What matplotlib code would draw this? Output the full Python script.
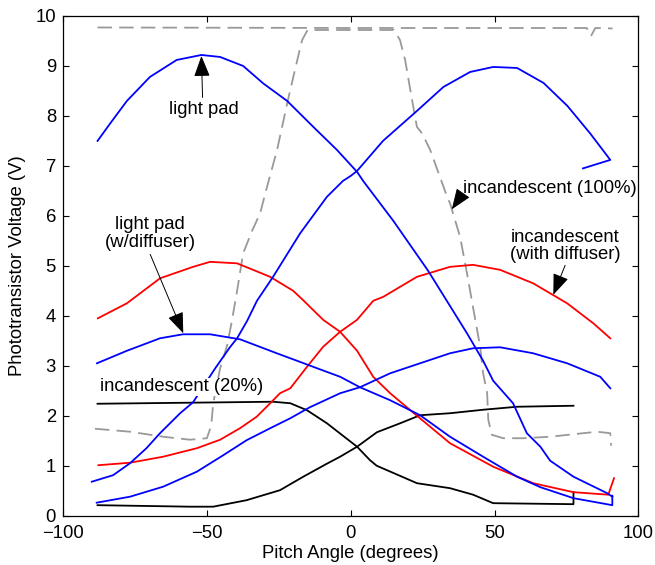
import numpy as np
import matplotlib.pyplot as plt

plt.rcParams['font.family'] = ['Liberation Sans', 'DejaVu Sans']
plt.rcParams['font.size'] = 13.3

# light pad (no diffuser), two mounting orientations
pad_a_x = [-88, -83.6, -77.8, -69.8, -60.5, -51.9, -45.4, -37.4, -30.4, -22.1, -13, -4.8, 2.2, 4.3,
           14.8, 26.9, 40.4, 46, 49.5, 56.4, 61.2, 65.9, 69.3, 77.4, 89.1, 90.9]
pad_a_y = [7.5, 7.85, 8.3, 8.78, 9.12, 9.22, 9.18, 9.0, 8.65, 8.3, 7.78, 7.32, 6.88, 6.7,
           5.9, 4.9, 3.65, 3.1, 2.7, 2.25, 1.65, 1.38, 1.1, 0.78, 0.45, 0.38]
pad_b_x = [-90, -82.6, -76.7, -71, -66.3, -62.8, -59.3, -54.8, -47.1, -42, -39.5, -36, -32.6, -27,
           -17.6, -8.3, -2.7, 0, 2.2, 11.2, 23, 32.2, 41.5, 49.5, 57.8, 67, 75.3, 83.2, 90.2, 80.7]
pad_b_y = [0.68, 0.81, 1.05, 1.35, 1.65, 1.85, 2.05, 2.27, 2.95, 3.37, 3.55, 3.9, 4.3, 4.78,
           5.65, 6.38, 6.7, 6.8, 6.9, 7.5, 8.1, 8.58, 8.88, 8.98, 8.96, 8.66, 8.2, 7.65, 7.12, 6.95]

# light pad with diffuser
padd_a_x = [-88.2, -77.8, -66.3, -58.3, -48.9, -38.5, -25.7, -21, -11.7, -3.7, 3.2, 13.7, 24.1,
            34.5, 46, 57.8, 65.9, 77.4, 90.9, 90.9]
padd_a_y = [3.05, 3.3, 3.55, 3.63, 3.63, 3.53, 3.25, 3.15, 2.95, 2.78, 2.57, 2.31, 2.01,
            1.58, 1.18, 0.78, 0.57, 0.35, 0.21, 0.4]
padd_b_x = [-88.3, -76.7, -65.2, -53.5, -44.3, -36.2, -28, -21, -14.2, -3.7, 3.2, 13.7, 24.1,
            34.5, 42.5, 51.9, 63.4, 75.2, 86.7, 90.2]
padd_b_y = [0.26, 0.38, 0.58, 0.88, 1.21, 1.51, 1.75, 1.95, 2.17, 2.45, 2.57, 2.85, 3.05,
            3.25, 3.35, 3.37, 3.25, 3.05, 2.78, 2.55]

# incandescent with diffuser
incd_a_x = [-87.9, -77.8, -66.3, -54.8, -48.9, -39.5, -28, -20, -16.5, -9.6, -3.7, 2.2, 7.8,
            13.7, 23, 34.5, 49.5, 63.4, 77.4, 89.5, 91.5]
incd_a_y = [3.95, 4.25, 4.75, 4.98, 5.08, 5.05, 4.78, 4.5, 4.31, 3.92, 3.68, 3.3, 2.78,
            2.45, 2.0, 1.45, 0.98, 0.65, 0.47, 0.42, 0.75]
incd_b_x = [-87.7, -76.7, -65.2, -53.5, -45.4, -38.5, -32.7, -28, -24.6, -21, -15.2, -9.6, -3.7,
            2.2, 7.8, 11.3, 23, 34.5, 42.5, 51.9, 63.4, 75.2, 84.3, 90.2]
incd_b_y = [1.01, 1.06, 1.18, 1.35, 1.52, 1.75, 1.98, 2.25, 2.45, 2.55, 2.98, 3.38, 3.68,
            3.92, 4.3, 4.38, 4.78, 4.98, 5.02, 4.92, 4.65, 4.25, 3.85, 3.55]

# incandescent 20%
inc20_a_x = [-88, -27, -21, -15.2, -8.3, 2.2, 6.7, 9, 23, 34.5, 42.5, 49.5, 77.4, 77.4]
inc20_a_y = [2.24, 2.28, 2.25, 2.11, 1.85, 1.38, 1.11, 1.0, 0.65, 0.55, 0.42, 0.25, 0.23, 0.47]
inc20_b_x = [-88, -55.9, -47.8, -36.2, -24.6, -16.5, -8.3, -3.7, 2.2, 9.1, 17.2, 24.1, 34.5,
             46, 57.8, 77.4]
inc20_b_y = [0.21, 0.18, 0.18, 0.31, 0.51, 0.78, 1.04, 1.18, 1.38, 1.67, 1.85, 2.01, 2.05,
             2.12, 2.18, 2.2]

# incandescent 100%
inc100_a_x = [-88, 0, 82, 83.5, 85, 91]
inc100_a_y = [9.77, 9.76, 9.76, 9.6, 9.76, 9.75]
inc100_b_x = [-88.9, -76.7, -65.2, -55.9, -50, -48.5, -47.8, -45.4, -43, -41.3, -39.5, -37.4,
              -34.3, -31.5, -29.1, -25.6, -22.1, -19.4, -16.9, -15, 0, 15, 17.1, 18.9, 21.3, 23,
              24.8, 27.6, 31, 33.5, 34.5, 38, 40.4, 42.5, 45, 46, 47.4, 47.8, 49, 53, 60, 69.3,
              80.7, 85.6, 90.2, 90.5]
inc100_b_y = [1.74, 1.68, 1.58, 1.52, 1.55, 1.8, 2.25, 2.95, 3.4, 3.9, 4.5, 5.25,
              5.7, 6.05, 6.58, 7.32, 8.25, 8.92, 9.52, 9.72, 9.72, 9.72, 9.52, 9.12, 8.32, 7.78,
              7.65, 7.32, 6.78, 6.38, 6.25, 5.58, 4.85, 4.17, 3.37, 2.85, 2.45, 1.92, 1.62, 1.55,
              1.55, 1.58, 1.65, 1.68, 1.65, 1.4]

fig = plt.figure(figsize=(6.55, 5.65), dpi=100)
ax = fig.add_axes([0.0962, 0.0873, 0.8786, 0.8844])

lw = 1.3
grey = '0.6'
ax.plot(inc100_a_x, inc100_a_y, color=grey, lw=lw, dashes=(8, 4))
ax.plot(inc100_b_x, inc100_b_y, color=grey, lw=lw, dashes=(8, 4))
ax.plot(inc20_a_x, inc20_a_y, color='k', lw=lw)
ax.plot(inc20_b_x, inc20_b_y, color='k', lw=lw)
ax.plot(incd_a_x, incd_a_y, color='r', lw=lw)
ax.plot(incd_b_x, incd_b_y, color='r', lw=lw)
ax.plot(padd_a_x, padd_a_y, color='b', lw=lw)
ax.plot(padd_b_x, padd_b_y, color='b', lw=lw)
ax.plot(pad_a_x, pad_a_y, color='b', lw=lw)
ax.plot(pad_b_x, pad_b_y, color='b', lw=lw)

ax.set_xlim(-100, 100)
ax.set_ylim(0, 10)
ax.set_xticks([-100, -50, 0, 50, 100])
ax.set_yticks(range(0, 11))
ax.tick_params(direction='in', length=4.3, width=0.8, top=True, right=True, labelsize=13.3)
ax.tick_params(axis='x', pad=7)
ax.tick_params(axis='y', pad=5)
for s in ax.spines.values():
    s.set_linewidth(0.9)
ax.set_xlabel('Pitch Angle (degrees)', labelpad=2)
ax.set_ylabel('Phototransistor Voltage (V)', labelpad=7)

arrow = dict(arrowstyle='-|>,head_length=0.65,head_width=0.25', mutation_scale=20,
             lw=0.7, color='k', shrinkA=0, shrinkB=0)
box = dict(fc='white', ec='none', pad=0.5)

ax.text(-51, 8.12, 'light pad', ha='center', va='center')
ax.annotate('', xy=(-51.9, 9.2), xytext=(-51.5, 8.37), arrowprops=arrow)

ax.text(-69.7, 5.65, 'light pad\n(w/diffuser)', ha='center', va='center', linespacing=1.05)
ax.annotate('', xy=(-58.2, 3.65), xytext=(-69.7, 5.23), arrowprops=arrow)

ax.text(39.0, 6.55, 'incandescent (100%)', ha='left', va='center')
ax.annotate('', xy=(35.1, 6.13), xytext=(38.6, 6.42), arrowprops=arrow)

ax.text(74.5, 5.4, 'incandescent\n(with diffuser)', ha='center', va='center', linespacing=1.05)
ax.annotate('', xy=(70.4, 4.42), xytext=(74.5, 5.01), arrowprops=arrow)

ax.text(-87.1, 2.58, 'incandescent (20%)', ha='left', va='center', bbox=box)

fig.savefig('out.png', dpi=100)
